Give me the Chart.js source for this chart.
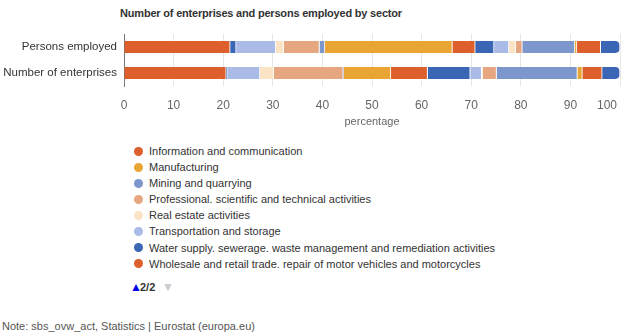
<!DOCTYPE html>
<html>
<head>
<meta charset="utf-8">
<script src="https://cdn.jsdelivr.net/npm/chart.js@4.4.1/dist/chart.umd.min.js"></script>
<style>
  html, body { margin: 0; padding: 0; background: #fff; }
  body { width: 624px; height: 335px; position: relative; overflow: hidden;
         font-family: "Liberation Sans", Arial, sans-serif; }
  #title { position: absolute; left: 0; width: 522px; top: 7px; text-align: center;
           font-weight: bold; font-size: 11px; letter-spacing: -0.2px; color: #333; }
  #wrap { position: absolute; left: 0; top: 0; width: 624px; height: 135px; }
  #legend { position: absolute; left: 134px; top: 143px; }
  .item { position: relative; height: 16.1px; line-height: 16.1px; font-size: 11px;
          color: #333; white-space: nowrap; padding-left: 15px; }
  .dot { position: absolute; left: 0; top: 3.5px; width: 9px; height: 9px; border-radius: 50%; }
  #pager { position: absolute; left: 0; top: 280px; width: 300px; height: 16px; font-size: 11px; }
  #pager span { position: absolute; top: 0; line-height: 14px; }
  #note { position: absolute; left: 2px; top: 320px; font-size: 11px; color: #555; }
</style>
</head>
<body>
<div id="title">Number of enterprises and persons employed by sector</div>
<div id="wrap"><canvas id="chart" width="624" height="135"></canvas></div>
<div id="legend"></div>
<div id="pager">
  <span style="left:130px;color:#0000ee;font-size:12px;">&#9650;</span>
  <span style="left:140px;color:#333;font-weight:bold;">2/2</span>
  <span style="left:162px;color:#cccccc;font-size:12px;">&#9660;</span>
</div>
<div id="note">Note: sbs_ovw_act, Statistics | Eurostat (europa.eu)</div>

<script>
// Rows of the stacked bar
const categories = ['Persons employed', 'Number of enterprises'];

// Sectors in alphabetical order
const sectors = [
  'Accommodation and food service activities',
  'Administrative and support service activities',
  'Arts. entertainment and recreation',
  'Construction',
  'Education',
  'Electricity. gas. steam and air conditioning supply',
  'Financial and insurance activities',
  'Human health and social work activities',
  'Information and communication',
  'Manufacturing',
  'Mining and quarrying',
  'Professional. scientific and technical activities',
  'Real estate activities',
  'Transportation and storage',
  'Water supply. sewerage. waste management and remediation activities',
  'Wholesale and retail trade. repair of motor vehicles and motorcycles'
];

// Share of persons employed (%)
const personsEmployed = [3.9, 4.8, 0.4, 10.6, 1.3, 1.4, 3.0, 3.8, 4.6, 25.7, 1.1, 7.2, 1.6, 8.0, 1.2, 21.4];

// Share of enterprises (%)
const enterprises = [3.6, 4.0, 1.0, 16.3, 2.8, 0.2, 2.3, 8.6, 7.4, 9.5, 0.1, 14.0, 2.8, 6.6, 0.2, 20.6];

// Sector colours
const sectorColors = [
  '#3a66b5', '#dd5f2c', '#e8a533', '#7d97cd', '#e6a67f', '#fbe3c6', '#abbbe7',
  '#3a66b5', '#dd5f2c', '#e8a533', '#7d97cd', '#e6a67f', '#fbe3c6', '#abbbe7',
  '#3a66b5', '#dd5f2c'
];

// Legend page shown below the chart
const legendPage = sectors.slice(8);

const xTicks = [0, 10, 20, 30, 40, 50, 60, 70, 80, 90, 100];

const FONT = '"Liberation Sans", Arial, sans-serif';

// Last sector sits at the left of the stack, first sector at the right end
const datasets = sectors.map((name, i) => ({
  label: name,
  data: [personsEmployed[i], enterprises[i]],
  backgroundColor: sectorColors[i],
  borderColor: '#ffffff',
  borderWidth: { left: 0, right: 1, top: 0, bottom: 0 },
  borderSkipped: false,
  borderRadius: i === 0 ? { topLeft: 0, bottomLeft: 0, topRight: 5, bottomRight: 5 } : 0,
  barThickness: 12
})).reverse();

// Keep the "100" label inside the canvas
const lastTickLabel = {
  id: 'lastTickLabel',
  afterDraw(chart) {
    const scale = chart.scales.x;
    const ctx = chart.ctx;
    const text = String(xTicks[xTicks.length - 1]);
    ctx.save();
    ctx.font = '12px ' + FONT;
    ctx.fillStyle = '#666';
    ctx.textBaseline = 'middle';
    ctx.textAlign = 'right';
    const w = ctx.measureText(text).width;
    const px = scale.getPixelForValue(xTicks[xTicks.length - 1]);
    ctx.fillText(text, Math.min(px + w / 2, chart.width - 7), scale.top + 12 + 7.2);
    ctx.restore();
  }
};

new Chart(document.getElementById('chart'), {
  type: 'bar',
  data: { labels: categories, datasets },
  plugins: [lastTickLabel],
  options: {
    indexAxis: 'y',
    responsive: false,
    devicePixelRatio: 1,
    animation: false,
    layout: { padding: { left: 0, right: 4, top: 34, bottom: 0 } },
    plugins: { legend: { display: false }, tooltip: { enabled: false }, title: { display: false } },
    scales: {
      x: {
        stacked: true,
        min: 0,
        max: 100,
        afterBuildTicks(s) { s.ticks = xTicks.map(v => ({ value: v })); },
        afterFit(s) { s.height = 49; s.paddingLeft = 0; s.paddingRight = 0; },
        grid: { color: '#e6e6e6', drawTicks: false },
        border: { display: false },
        ticks: {
          padding: 12,
          color: '#666',
          font: { family: FONT, size: 12 },
          callback: (v) => (v === 100 ? '' : v)
        },
        title: {
          display: true,
          text: 'percentage',
          color: '#666',
          font: { family: FONT, size: 11 },
          padding: { top: 0, bottom: 6 }
        }
      },
      y: {
        stacked: true,
        afterFit(s) { s.width = 124; },
        grid: { display: false, drawTicks: false },
        border: { display: true, color: '#777', width: 1 },
        ticks: {
          padding: 7,
          color: '#333',
          font: { family: FONT, size: 11.5 }
        }
      }
    }
  }
});

// Legend list built from the sector names and colours
const legendEl = document.getElementById('legend');
legendPage.forEach((name) => {
  const i = sectors.indexOf(name);
  const row = document.createElement('div');
  row.className = 'item';
  const dot = document.createElement('span');
  dot.className = 'dot';
  dot.style.background = sectorColors[i];
  row.appendChild(dot);
  row.appendChild(document.createTextNode(name));
  legendEl.appendChild(row);
});
</script>
</body>
</html>
